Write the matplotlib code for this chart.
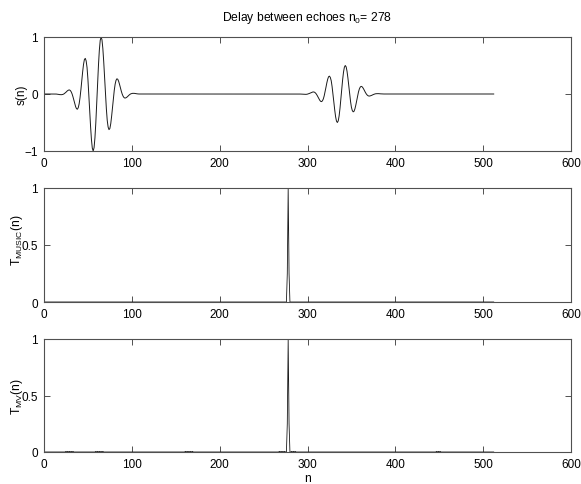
import numpy as np
import matplotlib
matplotlib.use("Agg")
import matplotlib.pyplot as plt

plt.rcParams['font.family'] = ['Liberation Sans', 'DejaVu Sans']
plt.rcParams['mathtext.fontset'] = 'custom'
plt.rcParams['mathtext.rm'] = 'Liberation Sans'
plt.rcParams['mathtext.it'] = 'Liberation Sans'
plt.rcParams['font.size'] = 8.5

# ---------------- data ----------------
n_len = 512
delay_n0 = 278

pulse_start = 13
pulse_s = [
    0.000, -0.001, -0.003, -0.006, -0.008, -0.011, -0.012, -0.012, -0.009, -0.004,
    0.005, 0.017, 0.031, 0.047, 0.060, 0.069, 0.071, 0.061, 0.037, 0.000,
    -0.050, -0.109, -0.169, -0.222, -0.258, -0.267, -0.240, -0.173, -0.066, 0.073,
    0.231, 0.389, 0.520, 0.605, 0.625, 0.580, 0.465, 0.260, 0.000, -0.286,
    -0.564, -0.797, -0.951, -1.000, -0.941, -0.768, -0.502, -0.174, 0.174, 0.502,
    0.768, 0.941, 1.000, 0.951, 0.797, 0.564, 0.286, 0.000, -0.260, -0.465,
    -0.580, -0.625, -0.605, -0.520, -0.389, -0.231, -0.073, 0.066, 0.173, 0.240,
    0.267, 0.258, 0.222, 0.169, 0.109, 0.050, 0.000, -0.037, -0.061, -0.071,
    -0.069, -0.060, -0.047, -0.031, -0.017, -0.005, 0.004, 0.009, 0.012, 0.012,
    0.011, 0.008, 0.006, 0.003, 0.001, 0.000,
]

echo_start = 291
echo_s = [
    0.000, -0.001, -0.002, -0.003, -0.004, -0.006, -0.006, -0.006, -0.005, -0.002,
    0.003, 0.009, 0.016, 0.024, 0.030, 0.035, 0.036, 0.031, 0.019, 0.000,
    -0.025, -0.055, -0.085, -0.111, -0.129, -0.134, -0.120, -0.087, -0.033, 0.037,
    0.116, 0.195, 0.260, 0.303, 0.313, 0.290, 0.233, 0.130, 0.000, -0.143,
    -0.282, -0.399, -0.476, -0.500, -0.471, -0.384, -0.251, -0.087, 0.087, 0.251,
    0.384, 0.471, 0.500, 0.476, 0.399, 0.282, 0.143, 0.000, -0.130, -0.233,
    -0.290, -0.313, -0.303, -0.260, -0.195, -0.116, -0.037, 0.033, 0.087, 0.120,
    0.134, 0.129, 0.111, 0.085, 0.055, 0.025, 0.000, -0.019, -0.031, -0.036,
    -0.035, -0.030, -0.024, -0.016, -0.009, -0.003, 0.002, 0.005, 0.006, 0.006,
    0.006, 0.004, 0.003, 0.002, 0.001, 0.000,
]

music_peak_n = [276, 277, 278, 279, 280]
music_peak_val = [0.0, 0.25, 1.0, 0.25, 0.0]

mv_peak_n = [276, 277, 278, 279, 280]
mv_peak_val = [0.0, 0.25, 1.0, 0.25, 0.0]
mv_bump_n = [25, 27, 29, 31, 33, 59, 61, 63, 65, 67, 161, 163, 165, 167, 169,
             268, 270, 272, 274, 282, 284, 286, 447, 449, 451]
mv_bump_val = [0.006] * len(mv_bump_n)

x_ticks = [0, 100, 200, 300, 400, 500, 600]

# ---------------- build series ----------------
n = np.arange(1, n_len + 1)
s = np.zeros(n_len)
s[pulse_start - 1:pulse_start - 1 + len(pulse_s)] = pulse_s
s[echo_start - 1:echo_start - 1 + len(echo_s)] = echo_s

t_music = np.zeros(n_len)
t_music[np.array(music_peak_n) - 1] = music_peak_val

t_mv = np.zeros(n_len)
t_mv[np.array(mv_bump_n) - 1] = mv_bump_val
t_mv[np.array(mv_peak_n) - 1] = mv_peak_val

# ---------------- figure ----------------
W, H = 581, 485
fig = plt.figure(figsize=(W / 100, H / 100), dpi=100)

def px_axes(left, top, right, bottom):
    return fig.add_axes([left / W, 1 - bottom / H, (right - left) / W, (bottom - top) / H])

ax1 = px_axes(44, 38, 571, 152)
ax2 = px_axes(44, 189, 571, 303)
ax3 = px_axes(44, 340, 571, 453)

line_col = '#1a1a1a'
spine_col = '#505050'

for ax in (ax1, ax2, ax3):
    ax.set_xlim(0, 600)
    ax.set_xticks(x_ticks)
    ax.tick_params(direction='in', top=True, right=True, length=4, width=0.7,
                   color=spine_col, labelsize=8.5)
    ax.tick_params(axis='x', pad=4.5)
    ax.tick_params(axis='y', pad=4.5)
    for sp in ax.spines.values():
        sp.set_color(spine_col)
        sp.set_linewidth(0.8)

ax1.plot(n, s, color=line_col, lw=0.7)
ax1.set_ylim(-1, 1)
ax1.set_yticks([-1, 0, 1])
ax1.set_ylabel('s(n)', fontsize=8.5)
ax1.yaxis.set_label_coords(-0.032, 0.5)
ax1.set_title(r'Delay between echoes n$_0$= ' + str(delay_n0), fontsize=8.7, pad=12)

ax2.plot(n, t_music, color=line_col, lw=0.6)
ax2.set_ylim(0, 1)
ax2.set_yticks([0, 0.5, 1])
ax2.set_yticklabels(['0', '0.5', '1'])
ax2.set_ylabel(r'T$_{MUSIC}$(n)', fontsize=8.7)
ax2.yaxis.set_label_coords(-0.036, 0.55)

ax3.plot(n, t_mv, color=line_col, lw=0.6)
ax3.set_ylim(0, 1)
ax3.set_yticks([0, 0.5, 1])
ax3.set_yticklabels(['0', '0.5', '1'])
ax3.set_ylabel(r'T$_{MV}$(n)', fontsize=8.7)
ax3.yaxis.set_label_coords(-0.036, 0.5)
ax3.set_xlabel('n', fontsize=8.7, labelpad=1.5)

fig.savefig('out.png', dpi=100)
